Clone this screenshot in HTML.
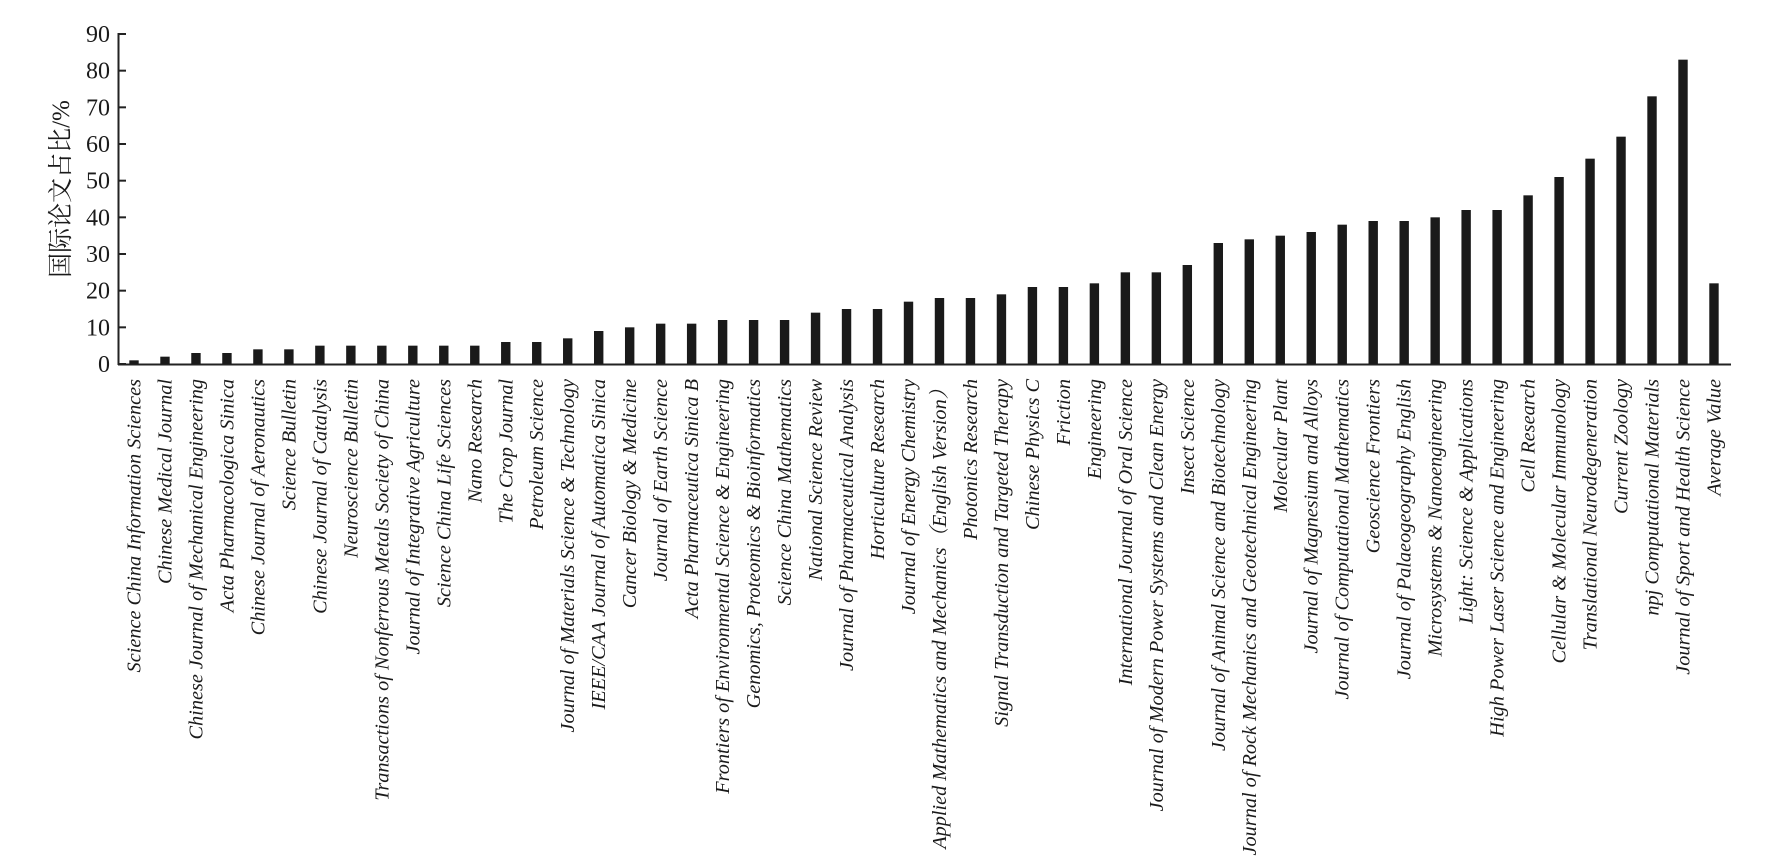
<!DOCTYPE html>
<html><head><meta charset="utf-8"><style>
html,body{margin:0;padding:0;background:#fff;width:1765px;height:864px;overflow:hidden}
svg text{font-family:"Liberation Serif","Noto Serif CJK SC",serif;fill:#1a1a1a}
</style></head><body>
<svg width="1765" height="864" xmlns="http://www.w3.org/2000/svg" id="c"></svg>
<script>
const d=[["Science China Information Sciences",1],["Chinese Medical Journal",2],["Chinese Journal of Mechanical Engineering",3],["Acta Pharmacologica Sinica",3],["Chinese Journal of Aeronautics",4],["Science Bulletin",4],["Chinese Journal of Catalysis",5],["Neuroscience Bulletin",5],["Transactions of Nonferrous Metals Society of China",5],["Journal of Integrative Agriculture",5],["Science China Life Sciences",5],["Nano Research",5],["The Crop Journal",6],["Petroleum Science",6],["Journal of Materials Science & Technology",7],["IEEE/CAA Journal of Automatica Sinica",9],["Cancer Biology & Medicine",10],["Journal of Earth Science",11],["Acta Pharmaceutica Sinica B",11],["Frontiers of Environmental Science & Engineering",12],["Genomics, Proteomics & Bioinformatics",12],["Science China Mathematics",12],["National Science Review",14],["Journal of Pharmaceutical Analysis",15],["Horticulture Research",15],["Journal of Energy Chemistry",17],["Applied Mathematics and Mechanics（English Version）",18],["Photonics Research",18],["Signal Transduction and Targeted Therapy",19],["Chinese Physics C",21],["Friction",21],["Engineering",22],["International Journal of Oral Science",25],["Journal of Modern Power Systems and Clean Energy",25],["Insect Science",27],["Journal of Animal Science and Biotechnology",33],["Journal of Rock Mechanics and Geotechnical Engineering",34],["Molecular Plant",35],["Journal of Magnesium and Alloys",36],["Journal of Computational Mathematics",38],["Geoscience Frontiers",39],["Journal of Palaeogeography English",39],["Microsystems & Nanoengineering",40],["Light: Science & Applications",42],["High Power Laser Science and Engineering",42],["Cell Research",46],["Cellular & Molecular Immunology",51],["Translational Neurodegeneration",56],["Current Zoology",62],["npj Computational Materials",73],["Journal of Sport and Health Science",83],["Average Value",22]];
const y0=364,k=330/90;let s='';
s+='<line x1="118.5" y1="33" x2="118.5" y2="365" stroke="#222" stroke-width="2"/>';
s+='<line x1="118" y1="364.5" x2="1731" y2="364.5" stroke="#222" stroke-width="2"/>';
for(let v=0;v<=90;v+=10){const y=y0-v*k;s+=`<line x1="118" y1="${y}" x2="126" y2="${y}" stroke="#222" stroke-width="2"/><text x="110" y="${y+8}" font-size="24" text-anchor="end">${v}</text>`;}
d.forEach((e,i)=>{const x=134+i*30.98;const h=e[1]*k;s+=`<rect x="${x-4.7}" y="${y0-h}" width="9.4" height="${h}" fill="#1a1a1a"/>`;
const t=e[0].replace(/&/g,'&amp;');s+=`<text transform="translate(${x+6.5},379) rotate(-90)" font-size="20.3" font-style="italic" text-anchor="end">${t}</text>`;});
s+='<text transform="translate(69,189) rotate(-90)" font-size="25" text-anchor="middle">国际论文占比/%</text>';
document.getElementById('c').innerHTML=s;
</script>
</body></html>
